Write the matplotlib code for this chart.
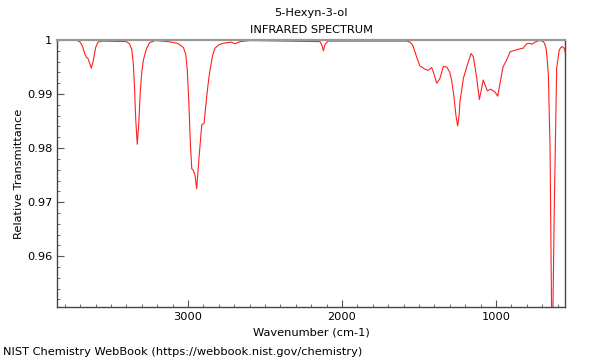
import matplotlib
matplotlib.use("Agg")
import matplotlib.pyplot as plt
from matplotlib.ticker import MultipleLocator, FuncFormatter

# spectrum (wavenumber in cm-1, relative transmittance)
wavenumber = [
    3850, 3720, 3700, 3685, 3670, 3660, 3650, 3640, 3628, 3615,
    3600, 3585, 3560, 3400, 3380, 3365, 3355, 3348, 3340, 3330,
    3320, 3310, 3300, 3290, 3270, 3250, 3214, 3128, 3070, 3052,
    3030, 3015, 3005, 2995, 2985, 2976, 2966, 2955, 2944, 2929,
    2911, 2896, 2879, 2867, 2857, 2840, 2825, 2800, 2771, 2720,
    2695, 2662, 2597, 2143, 2130, 2121, 2110, 2091, 1580, 1558,
    1540, 1515, 1494, 1472, 1461, 1440, 1418, 1407, 1385, 1364,
    1342, 1320, 1300, 1288, 1273, 1260, 1249, 1240, 1234, 1212,
    1186, 1162, 1147, 1125, 1108, 1093, 1083, 1071, 1057, 1034,
    1007, 989, 974, 960, 953, 931, 909, 888, 855, 823,
    801, 779, 768, 747, 719, 697, 685, 675, 668, 660,
    649, 636, 628, 621, 606, 589, 573, 558, 546,
]
transmittance = [
    1.0000, 0.9999, 0.9996, 0.9988, 0.9974, 0.9968, 0.9966, 0.9958, 0.9948, 0.9962,
    0.9986, 0.9996, 0.9998, 0.9997, 0.9993, 0.9982, 0.9955, 0.9915, 0.9855, 0.9807,
    0.9845, 0.9905, 0.9942, 0.9963, 0.9984, 0.9995, 0.9999, 0.9997, 0.9994, 0.9991,
    0.9986, 0.9974, 0.9945, 0.9885, 0.9810, 0.9762, 0.9759, 0.9750, 0.9725, 0.9781,
    0.9843, 0.9846, 0.9895, 0.9925, 0.9945, 0.9972, 0.9985, 0.9991, 0.9994, 0.9996,
    0.9993, 0.9997, 0.9999, 0.9997, 0.9990, 0.9980, 0.9992, 0.9998, 0.9998, 0.9996,
    0.9990, 0.9968, 0.9952, 0.9948, 0.9946, 0.9944, 0.9949, 0.9941, 0.9920, 0.9929,
    0.9951, 0.9950, 0.9940, 0.9925, 0.9895, 0.9860, 0.9841, 0.9860, 0.9886, 0.9929,
    0.9954, 0.9975, 0.9969, 0.9929, 0.9890, 0.9911, 0.9926, 0.9917, 0.9906, 0.9909,
    0.9904, 0.9896, 0.9920, 0.9942, 0.9951, 0.9963, 0.9978, 0.9980, 0.9983, 0.9985,
    0.9993, 0.9994, 0.9992, 0.9996, 0.9999, 0.9998, 0.9994, 0.9985, 0.9965, 0.9935,
    0.9800, 0.9400, 0.9550, 0.9701, 0.9948, 0.9982, 0.9988, 0.9985, 0.9974,
]

fs = 8.2

fig = plt.figure(figsize=(6, 3.6), dpi=100)
ax = fig.add_axes([57 / 600, 53 / 360, 508 / 600, 267 / 360])

ax.plot(wavenumber, transmittance, color="#ff2020", linewidth=0.8)

ax.set_xlim(3851, 552)
ax.set_ylim(0.9506, 1.0)

ax.xaxis.set_major_locator(MultipleLocator(1000))
ax.xaxis.set_minor_locator(MultipleLocator(100))
ax.yaxis.set_major_locator(MultipleLocator(0.01))
ax.yaxis.set_minor_locator(MultipleLocator(0.002))
ax.xaxis.set_major_formatter(FuncFormatter(lambda v, p: "%g" % v))
ax.yaxis.set_major_formatter(FuncFormatter(lambda v, p: "%g" % round(v, 4)))
ax.tick_params(which="both", direction="in", top=False, right=False,
               labelsize=fs, color="#555555")
ax.tick_params(which="major", length=5)
ax.tick_params(which="minor", length=2.5)

for side in ("left", "bottom", "right"):
    ax.spines[side].set_color("#444444")
    ax.spines[side].set_linewidth(1.0)
ax.spines["top"].set_color("#999999")
ax.spines["top"].set_linewidth(1.6)

ax.set_xlabel("Wavenumber (cm-1)", fontsize=fs, labelpad=4)
ax.set_ylabel("Relative Transmittance", fontsize=fs, labelpad=2)

fig.text(311 / 600, 1 - 13 / 360, "5-Hexyn-3-ol", ha="center", va="center", fontsize=fs)
fig.text(311 / 600, 1 - 30 / 360, "INFRARED SPECTRUM", ha="center", va="center", fontsize=fs)
fig.text(3 / 600, 1 - 352 / 360, "NIST Chemistry WebBook (https://webbook.nist.gov/chemistry)",
         ha="left", va="center", fontsize=fs)

fig.savefig("out.png", dpi=100)
